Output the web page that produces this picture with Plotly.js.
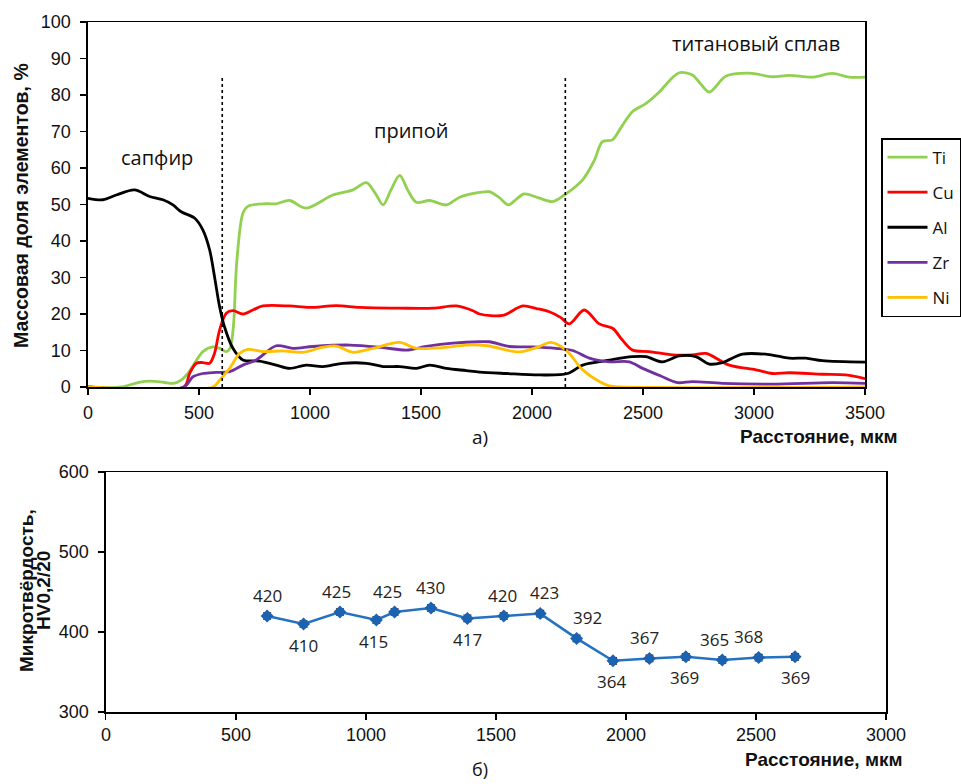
<!DOCTYPE html>
<html><head><meta charset="utf-8">
<script src="https://cdn.plot.ly/plotly-3.0.1.min.js"></script>
<style>html,body{margin:0;padding:0;background:#fff}#chart{width:961px;height:784px}</style>
</head><body><div id="chart"></div>
<script>
// ---------- Data: element mass fractions (%) vs distance (µm) ----------
const tiX = [0,150,230,280,340,385,420,450,480,518,563,593,623,640,655,670,698,720,803,848,908,983,1103,1194,1254,1295,1329,1365,1404,1440,1479,1539,1614,1674,1764,1808,1850,1895,1930,1965,2030,2093,2145,2227,2280,2317,2362,2400,2452,2514,2573,2620,2663,2722,2760,2798,2874,2978,3082,3158,3262,3352,3428,3500];
const tiY = [0,0,1.3,1.6,1.3,1,1.9,3.7,6.5,9.7,11,10.6,9.7,10.6,16.5,34,47.6,49.5,50.2,50.2,51.1,49,52.6,54,56,53,49.9,54,58,54,50.6,51.1,49.9,52,53.3,53.5,52,49.9,51.5,52.9,51.8,50.8,52.6,56.7,62,67.2,67.7,71,75.4,77.7,80.8,84,86.1,85.5,83,80.8,85.2,86,85,85.4,84.9,85.9,84.9,84.9];

const cuX = [0,432,458,488,518,548,570,593,623,653,698,743,788,908,998,1119,1224,1404,1554,1659,1734,1764,1868,1958,2020,2078,2130,2168,2235,2303,2363,2405,2453,2528,2633,2723,2783,2888,3008,3083,3158,3308,3413,3500];
const cuY = [0,0,3.7,6.5,6.7,6.5,9.2,15.6,20.2,20.9,20,21.1,22.2,22.2,21.8,22.3,21.8,21.6,21.6,22.2,20.9,20,19.6,22.2,21.5,20.6,19,17.3,21.1,17.3,16.1,13,10.1,9.7,8.8,8.8,9.2,6,4.7,3.7,3.9,3.5,3.3,2.3];

const alX = [0,68,128,210,278,338,383,420,480,518,548,570,593,615,653,698,773,848,908,983,1058,1148,1254,1329,1404,1479,1539,1614,1704,1764,1883,2033,2160,2228,2333,2453,2513,2588,2663,2738,2798,2858,2948,3068,3158,3233,3308,3500];
const alY = [51.7,51.3,52.6,54,52.2,51.3,49.9,48,46.3,43,37.6,30.3,22,16.5,10.6,7.4,7.1,6,5.1,6,5.6,6.5,6.5,5.6,5.6,5.1,6,5.1,4.5,4.1,3.7,3.3,3.7,6,7.2,8.3,8.3,6.9,8.5,8.3,6.3,6.7,9,8.9,7.9,7.9,7.2,6.8];

const zrX = [0,432,473,518,578,638,698,758,848,923,1013,1179,1329,1434,1524,1644,1764,1808,1898,2000,2108,2183,2258,2348,2438,2498,2580,2655,2723,2858,3083,3353,3500];
const zrY = [0,0,2.8,3.7,4,4.2,6,7.4,11.3,10.6,11.1,11.5,10.8,10.1,11.1,12,12.4,12.4,11.1,11,10.6,10,7.9,6.9,6.9,5.1,3,1.2,1.5,1,0.8,1.2,1];

const niX = [0,563,593,638,683,720,788,878,968,1058,1119,1194,1284,1404,1479,1599,1704,1800,1943,2030,2085,2153,2228,2303,2348,2400,3500];
const niY = [0,0,1.9,5.1,9.2,10.3,9.7,9.9,9.5,10.9,11.2,9.5,10.6,12.2,10.6,10.8,11.5,11.3,9.6,11,12.2,10.1,4.7,1.5,0.3,0,0];

const zoneBounds = [605, 2150];      // µm, dotted boundaries
const zoneBoundTop = 85;             // %, height of dotted lines
const zoneNames = ['сапфир', 'припой', 'титановый сплав'];
const zoneLabelX = [310, 1457, 3009];
const zoneLabelY = [63, 70.4, 94.2];

// ---------- Data: microhardness ----------
const hvDist = [620,760,900,1040,1110,1250,1390,1530,1670,1810,1950,2090,2230,2370,2510,2650];
const hvValues = [420,410,425,415,425,430,417,420,423,392,364,367,369,365,368,369];
const hvErr = [4,4,4,4,4,4,4,4,4,4,4,4,4,4,4,4];

// label placement (a = above, b = below) and small horizontal nudges
const hvLabelSide = ['a','b','a','b','a','a','b','a','a','a','b','a','b','a','a','b'];
const hvLabelDx =   [0,0,-3,-3,-7,0,0,-1,4,11,-2,-5,-1,-8,-10,0];

// ---------- Styles ----------
const TICKF = 'Liberation Sans, Arial, sans-serif';
const LABF = 'Open Sans, sans-serif';
const W = 961, H = 784;
const px = v => v / W, py = v => 1 - v / H;

function series(name, x, y, color) {
  return {
    type: 'scatter', mode: 'lines', name: name, x: x, y: y,
    xaxis: 'x', yaxis: 'y', legendgroup: name,
    line: {color: color, width: 2.8, shape: 'spline', smoothing: 0.9},
    hoverinfo: 'x+y+name'
  };
}

const traces = [
  series('Ti', tiX, tiY, '#92D050'),
  series('Cu', cuX, cuY, '#FF0000'),
  series('Al', alX, alY, '#000000'),
  series('Zr', zrX, zrY, '#7030A0'),
  series('Ni', niX, niY, '#FFC000'),
  {
    type: 'scatter', mode: 'lines+markers', x: hvDist, y: hvValues,
    xaxis: 'x2', yaxis: 'y2', showlegend: false,
    line: {color: '#2472C0', width: 2.5},
    marker: {symbol: 'diamond', size: 10, color: '#1B62B0'},
    error_y: {type: 'data', array: hvErr, visible: true, color: '#1a1a2a', thickness: 1.3, width: 4}
  }
];

const axisCommon = {
  showline: true, linecolor: '#000', linewidth: 1.5, mirror: true,
  showgrid: false, zeroline: false, ticks: 'outside', ticklen: 6,
  tickcolor: '#000', tickwidth: 1.2,
  tickfont: {family: TICKF, size: 18, color: '#111'}
};

const annotations = [];
zoneNames.forEach((t, i) => annotations.push({
  xref: 'x', yref: 'y', x: zoneLabelX[i], y: zoneLabelY[i], text: t,
  showarrow: false, font: {family: LABF, size: 20, color: '#111'}
}));
hvValues.forEach((v, i) => annotations.push({
  xref: 'x2', yref: 'y2', x: hvDist[i], y: v, text: String(v),
  showarrow: false, yshift: hvLabelSide[i] === 'a' ? 21 : -21, xshift: hvLabelDx[i],
  font: {family: LABF, size: 17, color: '#222'}
}));
const titleFont = {family: TICKF, size: 19, color: '#111'};
annotations.push(
  {xref: 'paper', yref: 'paper', x: px(901), y: py(436), xanchor: 'right', yanchor: 'middle',
   text: '<b>Расстояние, мкм</b>', showarrow: false, font: titleFont},
  {xref: 'paper', yref: 'paper', x: px(906), y: py(759), xanchor: 'right', yanchor: 'middle',
   text: '<b>Расстояние, мкм</b>', showarrow: false, font: titleFont},
  {xref: 'paper', yref: 'paper', x: px(21), y: py(205), xanchor: 'center', yanchor: 'middle',
   text: '<b>Массовая доля элементов, %</b>', textangle: -90, showarrow: false, font: {family: TICKF, size: 19.5, color: '#111'}},
  {xref: 'paper', yref: 'paper', x: px(26), y: py(590), xanchor: 'center', yanchor: 'middle',
   text: '<b>Микротвёрдость,</b>', textangle: -90, showarrow: false, font: {family: TICKF, size: 19, color: '#111'}},
  {xref: 'paper', yref: 'paper', x: px(43), y: py(590), xanchor: 'center', yanchor: 'middle',
   text: '<b>HV0,2/20</b>', textangle: -90, showarrow: false, font: {family: TICKF, size: 19, color: '#111'}},
  {xref: 'paper', yref: 'paper', x: px(481), y: py(437), xanchor: 'center', yanchor: 'middle',
   text: 'а)', showarrow: false, font: {family: LABF, size: 19, color: '#111'}},
  {xref: 'paper', yref: 'paper', x: px(480), y: py(769), xanchor: 'center', yanchor: 'middle',
   text: 'б)', showarrow: false, borderpad: 0, font: {family: LABF, size: 18, color: '#111'}}
);

const shapes = zoneBounds.map(b => ({
  type: 'line', xref: 'x', yref: 'y', x0: b, x1: b, y0: 0, y1: zoneBoundTop,
  line: {color: '#000', width: 1.6, dash: 'dot'}
}));

const layout = {
  width: W, height: H,
  margin: {l: 0, r: 0, t: 0, b: 0},
  paper_bgcolor: '#fff', plot_bgcolor: '#fff',
  showlegend: true,
  xaxis: Object.assign({}, axisCommon, {domain: [px(88), px(866)], range: [0, 3500], dtick: 500, anchor: 'y', ticklabelstandoff: 3}),
  yaxis: Object.assign({}, axisCommon, {domain: [py(387), py(22)], range: [0, 100], dtick: 10, anchor: 'x', ticklabelstandoff: 6}),
  xaxis2: Object.assign({}, axisCommon, {domain: [px(106), px(887)], range: [0, 3000], dtick: 500, anchor: 'y2', ticklabelstandoff: 0}),
  yaxis2: Object.assign({}, axisCommon, {domain: [py(712), py(472)], range: [300, 600], dtick: 100, anchor: 'x2', ticklabelstandoff: 6}),
  legend: {
    x: px(882), y: py(138), xanchor: 'left', yanchor: 'top',
    bgcolor: '#fff', bordercolor: '#000', borderwidth: 1.5,
    font: {family: LABF, size: 17, color: '#111'},
    traceorder: 'grouped', tracegroupgap: 10, itemwidth: 40
  },
  annotations: annotations,
  shapes: shapes
};

Plotly.newPlot('chart', traces, layout, {displayModeBar: false, staticPlot: true});
</script></body></html>
